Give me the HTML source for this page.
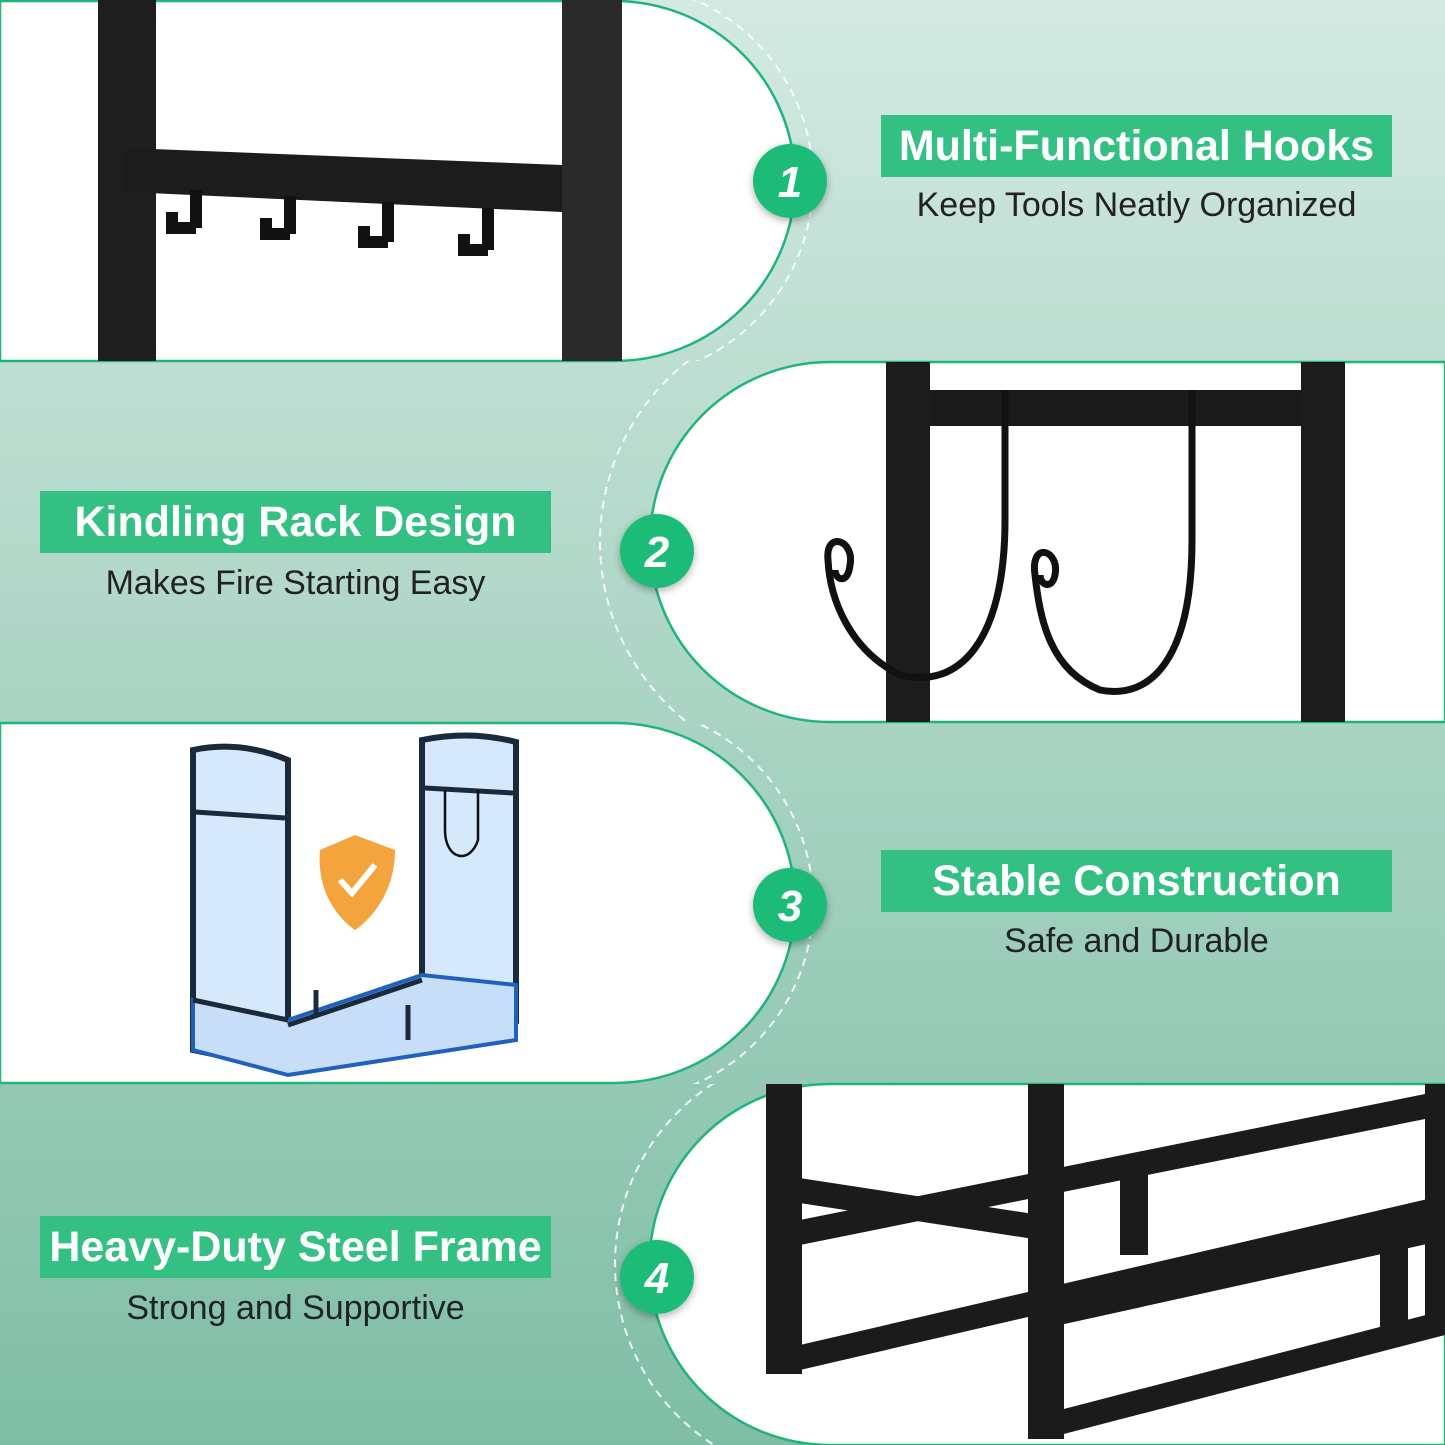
<!DOCTYPE html>
<html><head><meta charset="utf-8"><style>
body{margin:0;width:1445px;height:1445px;overflow:hidden;font-family:"Liberation Sans",sans-serif}
.t{position:absolute;background:#35c083;color:#fff;font-weight:bold;font-size:43px;text-align:center;line-height:62px;height:62px;width:511px;white-space:nowrap}
.s{position:absolute;color:#222;font-size:34px;text-align:center;width:511px;white-space:nowrap}
</style></head><body>
<svg width="1445" height="1445" style="position:absolute;left:0;top:0">
<defs><linearGradient id="g" x1="0" y1="0" x2="0" y2="1"><stop offset="0" stop-color="#d3e9e1"/><stop offset="1" stop-color="#7fbea6"/></linearGradient>
<filter id="sh"><feDropShadow dx="0" dy="3" stdDeviation="4" flood-opacity="0.3"/></filter>
<clipPath id="c1"><rect x="0" y="0" width="1445" height="361"/></clipPath>
<clipPath id="c2"><rect x="0" y="361" width="1445" height="362"/></clipPath>
<clipPath id="c3"><rect x="0" y="723" width="1445" height="361"/></clipPath>
<clipPath id="c4"><rect x="0" y="1084" width="1445" height="361"/></clipPath>
</defs>
<rect width="1445" height="1445" fill="url(#g)"/>
<g fill="none" stroke="#fff" stroke-width="2" stroke-dasharray="8 6" opacity="0.85">
<circle cx="615" cy="181" r="198" clip-path="url(#c1)"/>
<circle cx="830" cy="542" r="230" clip-path="url(#c2)"/>
<circle cx="615" cy="903" r="198" clip-path="url(#c3)"/>
<circle cx="830" cy="1264" r="215" clip-path="url(#c4)"/>
</g>
<g fill="#fff" stroke="#1fb578" stroke-width="2.5">
<path d="M0 1 H615 A180 180 0 0 1 615 361 H0 Z"/>
<path d="M1445 362 H830 A180 180 0 0 0 830 722 H1445 Z"/>
<path d="M0 723 H615 A180 180 0 0 1 615 1083 H0 Z"/>
<path d="M1445 1084 H830 A180 180 0 0 0 830 1445 H1445 Z"/>
</g>
<!-- panel 1 -->
<rect x="98" y="0" width="58" height="361" fill="#1e1e1e"/>
<rect x="562" y="0" width="60" height="361" fill="#2a2a2a"/>
<polygon points="126,148 562,165 562,212 126,192" fill="#1c1c1c"/>
<g fill="none" stroke="#111" stroke-width="12">
<path d="M196 190 V228 M196 228 H172 V212"/>
<path d="M290 196 V234 M290 234 H266 V218"/>
<path d="M388 202 V242 M388 242 H364 V226"/>
<path d="M488 208 V250 M488 250 H464 V234"/>
</g>
<!-- panel 2 -->
<rect x="886" y="362" width="44" height="360" fill="#1c1c1c"/>
<rect x="1301" y="362" width="44" height="360" fill="#1c1c1c"/>
<rect x="930" y="390" width="371" height="36" fill="#1a1a1a"/>
<g fill="none" stroke="#111" stroke-width="7">
<path d="M1005 390 V520 C1005 640 960 690 900 675 C850 650 830 600 828 560 C825 530 855 540 850 565 C848 585 835 580 835 570"/>
<path d="M1192 390 V540 C1192 660 1150 700 1100 690 C1050 670 1040 620 1035 575 C1030 540 1060 550 1055 575 C1052 590 1040 585 1040 575"/>
</g>
<!-- panel 3 -->
<g stroke="#1a2a3a" stroke-width="6" fill="#d6e8fb">
<path d="M193 750 Q240 740 288 760 V1070 L193 1050 Z"/>
<path d="M422 740 Q470 730 516 742 V1020 L422 995 Z"/>
<path d="M193 1000 L288 1020 L422 975 L516 985 V1040 L288 1075 L193 1050 Z" fill="#c8def8" stroke="#2060c0" stroke-width="4"/>
</g>
<g stroke="#1a2a3a" stroke-width="5"><line x1="195" y1="812" x2="285" y2="818"/><line x1="425" y1="788" x2="513" y2="793"/><line x1="288" y1="1025" x2="422" y2="980"/><line x1="193" y1="1000" x2="288" y2="1020"/><line x1="316" y1="990" x2="316" y2="1015"/><line x1="408" y1="1005" x2="408" y2="1040"/></g>
<path d="M445 790 V830 C445 860 470 865 478 840 V790" fill="none" stroke="#111" stroke-width="2.5"/>
<path d="M320 850 L355 835 L395 850 C395 905 355 930 355 930 C355 930 315 905 320 850Z" fill="#f3a43d"/>
<path d="M340 880 L352 893 L375 865" stroke="#fff" stroke-width="6" fill="none"/>
<!-- panel 4 -->
<g fill="#1b1b1b">
<rect x="766" y="1084" width="36" height="290"/>
<rect x="1028" y="1084" width="36" height="355"/>
<rect x="1120" y="1160" width="28" height="95"/>
<rect x="1380" y="1230" width="28" height="100"/>
<rect x="1425" y="1084" width="20" height="240"/>
<polygon points="780,1175 1040,1215 1040,1240 780,1200"/>
<polygon points="800,1220 1445,1090 1445,1115 800,1245"/>
<polygon points="800,1345 1445,1195 1445,1220 800,1370"/>
<polygon points="1060,1300 1445,1215 1445,1240 1060,1325"/>
<polygon points="1060,1410 1445,1310 1445,1335 1060,1435"/>
</g>
<g filter="url(#sh)" fill="#1dbb78">
<circle cx="790" cy="181" r="37"/><circle cx="657" cy="551" r="37"/><circle cx="790" cy="905" r="37"/><circle cx="657" cy="1277" r="37"/>
</g>
<g fill="#fff" font-family="Liberation Sans" font-weight="bold" font-style="italic" font-size="44" text-anchor="middle">
<text x="790" y="197">1</text><text x="657" y="567">2</text><text x="790" y="921">3</text><text x="657" y="1293">4</text>
</g>
</svg>
<div class="t" style="left:881px;top:115px">Multi-Functional Hooks</div>
<div class="s" style="left:881px;top:186px">Keep Tools Neatly Organized</div>
<div class="t" style="left:40px;top:491px">Kindling Rack Design</div>
<div class="s" style="left:40px;top:564px">Makes Fire Starting Easy</div>
<div class="t" style="left:881px;top:850px">Stable Construction</div>
<div class="s" style="left:881px;top:922px">Safe and Durable</div>
<div class="t" style="left:40px;top:1216px">Heavy-Duty Steel Frame</div>
<div class="s" style="left:40px;top:1289px">Strong and Supportive</div>
</body></html>
